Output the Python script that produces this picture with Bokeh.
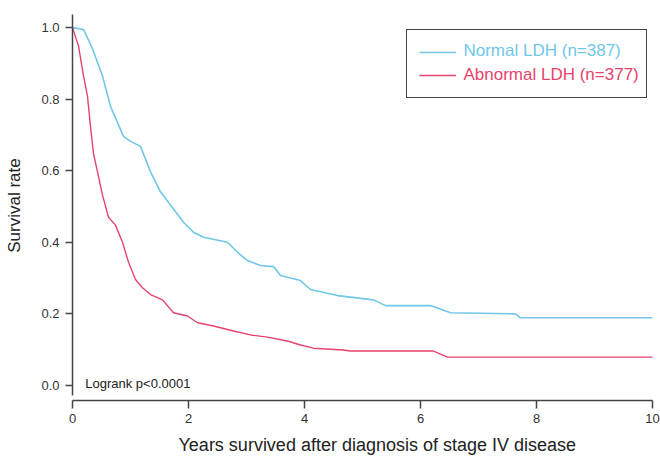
from bokeh.plotting import figure
from bokeh.models import Range1d, Legend, LegendItem, Label, FixedTicker, Title
from bokeh.embed import file_html
from bokeh.resources import INLINE

# ---- data ----
normal_x = [0, 0.19, 0.345, 0.517, 0.655, 0.879, 1.0, 1.172, 1.345, 1.517, 1.741, 1.914,
            2.086, 2.259, 2.672, 2.845, 3.017, 3.241, 3.466, 3.586, 3.931, 4.103, 4.569,
            5.19, 5.397, 6.172, 6.517, 7.638, 7.724, 10.0]
normal_y = [1.0, 0.995, 0.941, 0.865, 0.78, 0.696, 0.682, 0.668, 0.597, 0.541, 0.493, 0.456,
            0.428, 0.414, 0.4, 0.372, 0.349, 0.335, 0.332, 0.307, 0.293, 0.268, 0.251,
            0.239, 0.223, 0.223, 0.203, 0.2, 0.189, 0.189]
abn_x = [0, 0.103, 0.19, 0.259, 0.31, 0.362, 0.431, 0.517, 0.621, 0.741, 0.862, 0.966,
         1.086, 1.207, 1.345, 1.552, 1.741, 1.983, 2.155, 2.431, 2.776, 3.069, 3.362,
         3.707, 3.931, 4.155, 4.672, 4.793, 6.224, 6.466, 10.05]
abn_y = [1.0, 0.949, 0.865, 0.808, 0.724, 0.648, 0.597, 0.532, 0.47, 0.448, 0.4, 0.344,
         0.296, 0.273, 0.254, 0.239, 0.203, 0.194, 0.175, 0.166, 0.152, 0.141, 0.135,
         0.124, 0.113, 0.104, 0.099, 0.096, 0.096, 0.079, 0.079]
x_ticks = [0, 2, 4, 6, 8, 10]
y_ticks = [0.0, 0.2, 0.4, 0.6, 0.8, 1.0]
series_labels = ["Normal LDH (n=387)", "Abnormal LDH (n=377)"]
annotation_text = "Logrank p<0.0001"
x_title = "Years survived after diagnosis of stage IV disease"
y_title = "Survival rate"

BLUE = "#70c7e8"
RED = "#e8436c"
AXIS = "#444444"
FONT = "Liberation Sans"

p = figure(width=660, height=461, output_backend="svg", toolbar_location=None,
           x_range=Range1d(0, 10), y_range=Range1d(-0.04225, 1.0479),
           min_border_left=72, min_border_right=8, min_border_top=10, min_border_bottom=10)
p.outline_line_color = None
p.grid.visible = False
p.background_fill_color = "white"
p.border_fill_color = "white"

r_norm = p.line(normal_x, normal_y, line_color=BLUE, line_width=1.6)
r_abn = p.line(abn_x, abn_y, line_color=RED, line_width=1.4)

# axes
for ax in (p.xaxis[0], p.yaxis[0]):
    ax.axis_line_color = AXIS
    ax.axis_line_width = 1.5
    ax.major_tick_line_color = AXIS
    ax.major_tick_line_width = 1.5
    ax.minor_tick_line_color = None
    ax.major_tick_in = 0
    ax.major_label_text_font = FONT
    ax.major_label_text_font_size = "13px"
    ax.major_label_text_color = "#333333"
    ax.axis_label_text_font = FONT
    ax.axis_label_text_font_style = "normal"
    ax.axis_label_text_color = "#222222"

p.xaxis[0].ticker = FixedTicker(ticks=x_ticks)
p.yaxis[0].ticker = FixedTicker(ticks=y_ticks)
p.yaxis[0].major_label_overrides = {t: f"{t:.1f}" for t in y_ticks}
p.xaxis[0].major_tick_out = 8
p.yaxis[0].major_tick_out = 7
p.xaxis[0].major_label_standoff = 5
p.yaxis[0].major_label_standoff = 6
p.yaxis[0].bounds = (-0.028, 1.037)
p.yaxis[0].axis_label = y_title
p.yaxis[0].axis_label_text_font_size = "17px"
p.yaxis[0].axis_label_standoff = 14

p.add_layout(Title(text=x_title, align="left", offset=106, text_font=FONT,
                   text_font_size="18px", text_font_style="normal",
                   text_color="#222222", standoff=14), "below")

# legend (glyphs + box); coloured labels drawn as annotations
legend = Legend(items=[LegendItem(label=series_labels[0], renderers=[r_norm]),
                       LegendItem(label=series_labels[1], renderers=[r_abn])],
                location=(334, 302), orientation="vertical",
                border_line_color=AXIS, border_line_width=1.5, border_line_alpha=1.0,
                background_fill_alpha=0.0,
                padding=12, spacing=3, margin=0, glyph_width=37, glyph_height=20,
                label_width=170, label_height=20, label_standoff=8,
                label_text_alpha=0.0, label_text_font_size="6px")
p.add_layout(legend, "center")

p.add_layout(Label(x=6.741, y=0.935, text=series_labels[0], text_color=BLUE,
                   text_font=FONT, text_font_size="17px", text_baseline="middle"))
p.add_layout(Label(x=6.741, y=0.870, text=series_labels[1], text_color=RED,
                   text_font=FONT, text_font_size="17px", text_baseline="middle"))
p.add_layout(Label(x=0.22, y=0.004, text=annotation_text, text_color="#222222",
                   text_font=FONT, text_font_size="13px", text_baseline="middle"))

open("out.html", "w").write(file_html(p, INLINE))
